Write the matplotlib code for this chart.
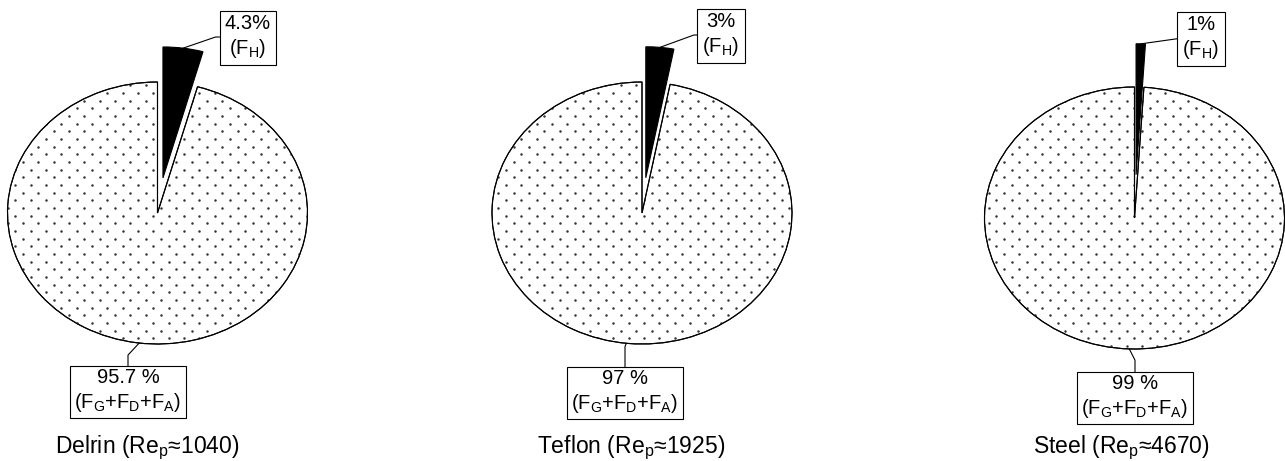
import numpy as np
import matplotlib
matplotlib.use("Agg")
import matplotlib.pyplot as plt
from matplotlib.patches import Wedge

plt.rcParams['font.family'] = ['Liberation Sans', 'DejaVu Sans']
plt.rcParams['mathtext.fontset'] = 'custom'
plt.rcParams['mathtext.rm'] = 'Liberation Sans'

# ---- data ----
materials = ["Delrin", "Teflon", "Steel"]
re_p = [1040, 1925, 4670]
fh_pct = [4.3, 3, 1]            # F_H share (%)
rest_pct = [95.7, 97, 99]       # F_G + F_D + F_A share (%)

# ---- layout (pixels, y measured from top) ----
W, H = 1285, 461
SX, SY = 150.0, 131.0           # pixel size of one radius unit in x / y
centers_px = [(157.5, 213), (642, 213), (1134.5, 218)]
explode_h = [0.27, 0.27, 0.33]
top_box_px = [(248, 37), (721, 35), (1201, 38)]
bot_box_px = [(128, 391), (625, 392), (1135, 397)]
title_px = [(147, 453), (631, 453), (1121, 453)]
bot_anchor_deg = [263, 264, 268]
top_leader_angle = [19, 20, 8]
bot_leader_angle = [47, 68, 117]

BOX_FS = 14.5
TITLE_FS = 16.5


def to_data(p):
    return (p[0] / SX, (H - p[1]) / SY)


fig = plt.figure(figsize=(W / 100, H / 100), dpi=100)
ax = fig.add_axes([0, 0, 1, 1])

# staggered dot texture grid (data units), pixel spacing 15.33 x 7.67
col_step = 15.33 / SX
row_step = 7.67 / SY
rows = np.arange(0, H / SY + row_step, row_step)
gx, gy = [], []
for i, yv in enumerate(rows):
    xs = np.arange(0 if i % 2 == 0 else col_step / 2, W / SX + col_step, col_step)
    gx.append(xs)
    gy.append(np.full_like(xs, yv))
gx = np.concatenate(gx)
gy = np.concatenate(gy)

for k in range(3):
    c = to_data(centers_px[k])
    wedges, _ = ax.pie([fh_pct[k], rest_pct[k]], explode=[explode_h[k], 0],
                       colors=["black", "white"], startangle=90,
                       counterclock=False, center=c, radius=1,
                       wedgeprops=dict(edgecolor="black", linewidth=0.8))
    wh, wr = wedges
    wh.set_zorder(3)
    wr.set_zorder(1)
    dots = ax.scatter(gx, gy, s=3.2, color="#333333", linewidths=0, zorder=2)
    dots.set_clip_path(wr)
    ax.add_patch(Wedge(wr.center, wr.r, wr.theta1, wr.theta2, fill=False,
                       edgecolor="black", linewidth=0.8, zorder=2.5))

    # top label (F_H)
    mid = np.deg2rad((wh.theta1 + wh.theta2) / 2)
    pt = (wh.center[0] + wh.r * np.cos(mid), wh.center[1] + wh.r * np.sin(mid))
    ax.annotate(f"{fh_pct[k]:g}%\n(F$_\\mathregular{{H}}$)", xy=pt,
                xytext=to_data(top_box_px[k]), ha="center", va="center",
                fontsize=BOX_FS, linespacing=1.2, zorder=5,
                bbox=dict(boxstyle="square,pad=0.25", fc="white", ec="black", lw=0.8),
                arrowprops=dict(arrowstyle="-", lw=0.8, color="black",
                                shrinkA=0, shrinkB=0,
                                connectionstyle=f"angle,angleA=0,angleB={top_leader_angle[k]},rad=0"))

    # bottom label
    a = np.deg2rad(bot_anchor_deg[k])
    ptb = (c[0] + np.cos(a), c[1] + np.sin(a))
    ax.annotate(f"{rest_pct[k]:g} %\n(F$_\\mathregular{{G}}$+F$_\\mathregular{{D}}$+F$_\\mathregular{{A}}$)",
                xy=ptb, xytext=to_data(bot_box_px[k]), ha="center", va="center",
                fontsize=BOX_FS, linespacing=1.2, zorder=5,
                bbox=dict(boxstyle="square,pad=0.2", fc="white", ec="black", lw=0.8),
                arrowprops=dict(arrowstyle="-", lw=0.8, color="black",
                                shrinkA=0, shrinkB=0,
                                connectionstyle=f"angle,angleA=90,angleB={bot_leader_angle[k]},rad=0"))

    # title
    tx, ty = to_data(title_px[k])
    ax.text(tx, ty, f"{materials[k]} (Re$_\\mathregular{{p}}$\u2248{re_p[k]})",
            ha="center", va="baseline", fontsize=TITLE_FS)

ax.set_xlim(0, W / SX)
ax.set_ylim(0, H / SY)
ax.set_aspect("auto")
ax.axis("off")

fig.savefig("out.png", dpi=100)
